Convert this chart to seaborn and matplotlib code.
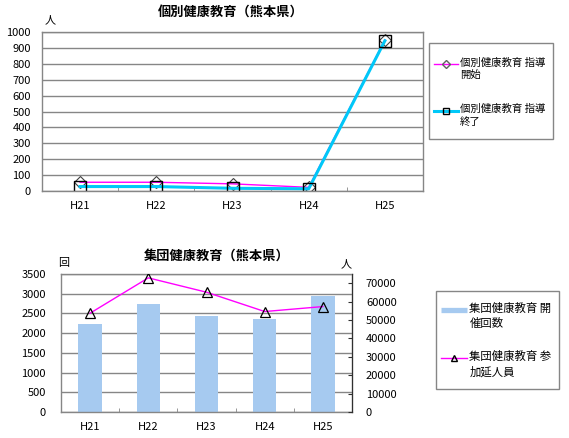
import numpy as np
import pandas as pd
import matplotlib
matplotlib.use('Agg')
import matplotlib.pyplot as plt
from matplotlib.lines import Line2D
from matplotlib.patches import Rectangle
from matplotlib.legend_handler import HandlerLine2D
import seaborn as sns

# data
years = ['H21', 'H22', 'H23', 'H24', 'H25']
kobetsu_kaishi = [55, 55, 45, 23, 950]
kobetsu_shuryo = [28, 28, 17, 14, 945]
shudan_kaisu = [2235, 2750, 2440, 2360, 2945]
shudan_ninzu = [53700, 72900, 65100, 54600, 57300]

label_kaishi = '個別健康教育 指導\n開始'
label_shuryo = '個別健康教育 指導\n終了'
label_kaisu = '集団健康教育 開\n催回数'
label_ninzu = '集団健康教育 参\n加延人員'

magenta = '#FF00FF'
cyan = '#00C8F8'
bar_color = '#A6CAF0'
grid_gray = '#868686'

plt.rcParams['font.family'] = ['Noto Sans CJK JP', 'DejaVu Sans']
plt.rcParams['font.size'] = 8

W, H = 569, 438
fig = plt.figure(figsize=(W / 100, H / 100), dpi=100)


def px_axes(x0, y0, x1, y1):
    # axes from pixel box (top-left origin)
    return fig.add_axes([x0 / W, 1 - y1 / H, (x1 - x0) / W, (y1 - y0) / H])


def px_frame(x0, y0, x1, y1):
    fig.add_artist(Rectangle((x0 / W, 1 - y1 / H), (x1 - x0) / W, (y1 - y0) / H,
                             transform=fig.transFigure, fill=False,
                             edgecolor=grid_gray, linewidth=1))


class TopLineHandler(HandlerLine2D):
    # put the key next to the first line of a two-line label
    def __init__(self, raise_pt, **kw):
        super().__init__(**kw)
        self.raise_pt = raise_pt

    def create_artists(self, legend, orig_handle, xdescent, ydescent,
                       width, height, fontsize, trans):
        return super().create_artists(legend, orig_handle, xdescent,
                                      ydescent - 2 * self.raise_pt, width,
                                      height, fontsize, trans)


def style_box(ax):
    for s in ax.spines.values():
        s.set_color(grid_gray)
        s.set_linewidth(1)
    ax.set_axisbelow(True)
    ax.yaxis.grid(True, color=grid_gray, linewidth=1)
    ax.xaxis.grid(False)
    ax.set_xlim(-0.5, len(years) - 0.5)
    ax.set_xticks([i + 0.5 for i in range(len(years) - 1)], minor=True)
    ax.tick_params(axis='x', which='minor', direction='in', length=3, color=grid_gray)
    ax.tick_params(axis='x', which='major', length=0, pad=7, labelsize=8)
    ax.tick_params(axis='y', length=0, pad=8, labelsize=8)
    ax.set_xlabel('')
    ax.set_ylabel('')


def boxed_legend(handles, labels, x, y, fontsize, linespacing, labelspacing, raise_pt):
    leg = fig.legend(handles, labels, loc='upper left', bbox_to_anchor=(x / W, 1 - y / H),
                     borderaxespad=0, borderpad=0, frameon=False, fontsize=fontsize,
                     handlelength=2.3, handletextpad=0.2, labelspacing=labelspacing,
                     handler_map={Line2D: TopLineHandler(raise_pt)})
    for t in leg.get_texts():
        t.set_linespacing(linespacing)
    return leg


# ---- top chart: 個別健康教育
ax1 = px_axes(42, 32, 423, 191)
df_top = pd.DataFrame({'year': years, 'kaishi': kobetsu_kaishi, 'shuryo': kobetsu_shuryo})
sns.lineplot(data=df_top, x='year', y='kaishi', sort=False, color=magenta, lw=1,
             marker='D', ms=6, mfc='none', mec='#404040', mew=0.8, ax=ax1)
sns.lineplot(data=df_top, x='year', y='shuryo', sort=False, color=cyan, lw=2.2,
             marker='s', ms=8, mfc='none', mec='black', mew=1, ax=ax1)
ax1.set_ylim(0, 1000)
ax1.set_yticks(range(0, 1001, 100))
style_box(ax1)
fig.text(231 / W, 1 - 12 / H, '個別健康教育（熊本県）', ha='center', va='center',
         fontsize=9.5, fontweight='bold')
fig.text(50 / W, 1 - 20 / H, '人', ha='center', va='center', fontsize=8)

top_handles = [
    Line2D([], [], color=magenta, lw=1, marker='D', ms=4, mfc='none', mec='#606060'),
    Line2D([], [], color=cyan, lw=2.2, marker='s', ms=5, mfc='none', mec='black'),
]
px_frame(429, 43, 553, 139)
boxed_legend(top_handles, [label_kaishi, label_shuryo], 434, 58, 7.5, 1.3, 2.28, 3.8)

# ---- bottom chart: 集団健康教育
ax2 = px_axes(61, 274, 352, 412)
df_bot = pd.DataFrame({'year': years, 'kaisu': shudan_kaisu, 'ninzu': shudan_ninzu})
sns.barplot(data=df_bot, x='year', y='kaisu', color=bar_color, saturation=1,
            width=0.4, ax=ax2)
ax2.set_ylim(0, 3500)
ax2.set_yticks(range(0, 3501, 500))
style_box(ax2)
ax2.tick_params(axis='y', pad=11)

ax3 = ax2.twinx()
sns.lineplot(data=df_bot, x='year', y='ninzu', sort=False, color=magenta, lw=1,
             marker='^', ms=7, mfc='none', mec='black', mew=0.9, ax=ax3)
ax3.set_ylim(0, 75000)
ax3.set_yticks(range(0, 70001, 10000))
ax3.set_ylabel('')
for s in ax3.spines.values():
    s.set_visible(False)
ax3.spines['right'].set_visible(True)
ax3.spines['right'].set_color('#303030')
ax3.tick_params(axis='y', direction='in', length=3, color='#303030', pad=10, labelsize=8)
ax3.set_xlim(-0.5, len(years) - 0.5)

fig.text(217 / W, 1 - 256 / H, '集団健康教育（熊本県）', ha='center', va='center',
         fontsize=9.5, fontweight='bold')
fig.text(64 / W, 1 - 263 / H, '回', ha='center', va='center', fontsize=8)
fig.text(346 / W, 1 - 264 / H, '人', ha='center', va='center', fontsize=8)

bot_handles = [
    Line2D([], [], color=bar_color, lw=3.8, solid_capstyle='butt'),
    Line2D([], [], color=magenta, lw=1, marker='^', ms=5, mfc='none', mec='black'),
]
px_frame(436, 291, 559, 389)
boxed_legend(bot_handles, [label_kaisu, label_ninzu], 441, 303, 8.2, 1.4, 1.97, 4.5)

fig.savefig('out.png', dpi=100, facecolor='white')
